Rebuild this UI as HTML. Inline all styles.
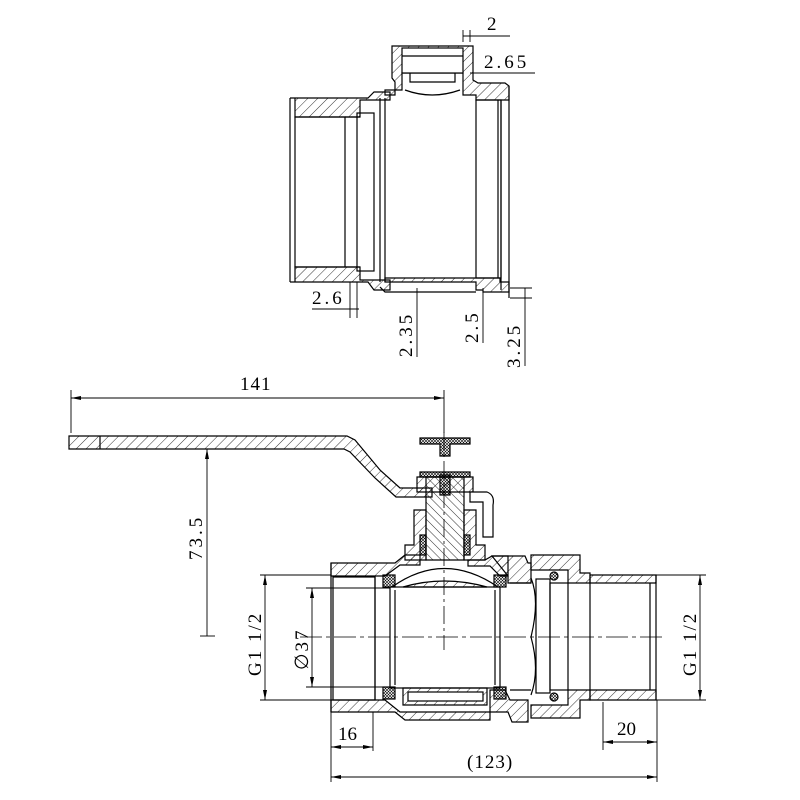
<!DOCTYPE html>
<html><head><meta charset="utf-8"><style>html,body{margin:0;padding:0;background:#fff}svg{display:block}</style></head><body>
<svg width="800" height="800" viewBox="0 0 800 800" xmlns="http://www.w3.org/2000/svg" font-family="Liberation Serif, serif" fill="none" stroke="#000" stroke-width="1">
<defs>
<pattern id="h" patternUnits="userSpaceOnUse" width="7" height="7" patternTransform="rotate(45)"><line x1="0" y1="0" x2="0" y2="7" stroke="#000" stroke-width="0.8"/></pattern>
<pattern id="h2" patternUnits="userSpaceOnUse" width="6" height="6" patternTransform="rotate(-45)"><line x1="0" y1="0" x2="0" y2="6" stroke="#000" stroke-width="0.8"/></pattern>
<pattern id="x" patternUnits="userSpaceOnUse" width="3" height="3"><path d="M0 0L3 3M3 0L0 3" stroke="#000" stroke-width="0.6"/></pattern>
<marker id="a" viewBox="0 0 10 4" refX="10" refY="2" markerWidth="10" markerHeight="4" orient="auto-start-reverse" markerUnits="userSpaceOnUse"><path d="M0 0L10 2L0 4z" fill="#000" stroke="none"/></marker>
</defs>

<!-- ========== TOP SECTION ========== -->
<g stroke-width="1.2">
<!-- left end wall -->
<path d="M290 98H368L374 92H390V100H360V117H295V98" fill="url(#h)"/>
<path d="M290 282H368L374 290H390V280H360V267H295V282" fill="url(#h)"/>
<path d="M290 98V282"/>
<rect x="295" y="117" width="50" height="150"/>
<line x1="345" y1="117" x2="360" y2="117"/><line x1="345" y1="267" x2="360" y2="267"/>
<rect x="357" y="113" width="17" height="158"/>
<line x1="380" y1="98" x2="380" y2="282"/>
<line x1="385" y1="98" x2="385" y2="282"/>
<!-- top wall body -->
<path d="M385 95H395V82L392 78V46H473V80L478 83H505L509 86V100H476V95H463V73H402V90H385Z" fill="url(#h)"/>
<rect x="402" y="48" width="61" height="25" fill="#fff"/>
<line x1="402" y1="56" x2="463" y2="56"/>
<path d="M410 73V82H455V73"/>
<path d="M405 90Q432 100 460 90"/>
<!-- bottom wall body -->
<path d="M385 282H476V290H483V292H509V282H500V278H385Z" fill="url(#h)"/>
<path d="M380 287L385 292H476"/>
<rect x="476" y="100" width="25" height="178"/>
<line x1="501" y1="100" x2="501" y2="290"/>
<line x1="509" y1="86" x2="509" y2="298"/>
<line x1="498" y1="100" x2="498" y2="278"/>
</g>
<!-- top dims -->
<g stroke-width="0.9">
<line x1="463" y1="30" x2="463" y2="42"/><line x1="470" y1="30" x2="470" y2="42"/>
<line x1="463" y1="36" x2="510" y2="36"/>
<line x1="470" y1="73" x2="535" y2="73"/>
<line x1="312" y1="309" x2="359" y2="309"/>
<line x1="350" y1="282" x2="350" y2="318"/><line x1="357" y1="282" x2="357" y2="318"/>
<line x1="417" y1="288" x2="417" y2="357"/>
<line x1="483" y1="288" x2="483" y2="343"/>
<line x1="525" y1="288" x2="525" y2="366"/>
<line x1="510" y1="288" x2="532" y2="288"/><line x1="510" y1="298" x2="532" y2="298"/>
</g>
<g fill="#000" stroke="none" font-size="19">
<text x="487" y="30">2</text>
<text x="484" y="68" letter-spacing="3">2.65</text>
<text x="312" y="304" letter-spacing="3">2.6</text>
<text transform="translate(412,357) rotate(-90)" letter-spacing="3">2.35</text>
<text transform="translate(478,343) rotate(-90)" letter-spacing="3">2.5</text>
<text transform="translate(520,368) rotate(-90)" letter-spacing="3">3.25</text>
</g>

<!-- ========== BOTTOM: HANDLE ========== -->
<g stroke-width="1.2">
<path d="M69 436H347L355 440L380 470L400 488H432V497H396L375 478L350 452L344 449H69Z" fill="url(#h)"/>
<line x1="100" y1="436" x2="100" y2="449"/>
</g>
<line x1="71" y1="390" x2="71" y2="433" stroke-width="0.9"/>
<line x1="444" y1="390" x2="444" y2="433" stroke-width="0.9"/>
<line x1="71" y1="398" x2="444" y2="398" stroke-width="0.9" marker-start="url(#a)" marker-end="url(#a)"/>
<line x1="207" y1="636" x2="207" y2="449" stroke-width="0.9" marker-end="url(#a)"/>
<line x1="200" y1="636" x2="215" y2="636" stroke-width="0.9"/>
<g fill="#000" stroke="none" font-size="19">
<text x="240" y="390" letter-spacing="1">141</text>
<text transform="translate(202,560) rotate(-90)" letter-spacing="3">73.5</text>
</g>

<!-- stem and caps -->
<g stroke-width="1.2">
<path d="M420 438H470V444H450V456H440V444H420Z" fill="url(#x)"/>
<path d="M420 472H470V477H420Z" fill="url(#x)"/>
<path d="M417 477H473V492H417Z" fill="url(#h)"/>
<path d="M470 492H487Q495 495 493 505V537H483V502H470Z" fill="#fff"/>
<path d="M426 477H464V560H426Z" fill="url(#h2)"/>
<rect x="440" y="475" width="10" height="20" fill="url(#x)"/>
<path d="M414 510H426V560H405V545H414Z" fill="url(#h)"/>
<path d="M464 510H476V545H485V560H464Z" fill="url(#h)"/>
<rect x="420" y="535" width="6" height="20" fill="url(#x)"/>
<rect x="464" y="535" width="6" height="20" fill="url(#x)"/>
</g>
<line x1="444" y1="432" x2="444" y2="650" stroke-width="0.8" stroke-dasharray="18,4,3,4"/>

<!-- body -->
<g stroke-width="1.2">
<!-- left end -->
<path d="M331 563H395L405 555H420V565H400L385 576H331Z" fill="url(#h)"/>
<path d="M331 712H395L405 720H490V712H400L385 700H331Z" fill="url(#h)"/>
<line x1="331" y1="563" x2="331" y2="712"/>
<rect x="333" y="577" width="42" height="123"/>
<line x1="375" y1="577" x2="375" y2="700"/>
<!-- top right body -->
<path d="M468 560H485L492 556H508V576H500L490 566H468Z" fill="url(#h)"/>
<path d="M492 556H525L528 563H531V583H508V576Z" fill="url(#h)"/>
<path d="M490 712H508L512 722H528V700H510L505 690H490Z" fill="url(#h)"/>
<!-- seats -->
<rect x="383" y="575" width="12" height="12" fill="url(#x)"/>
<rect x="494" y="575" width="12" height="12" fill="url(#x)"/>
<rect x="383" y="687" width="12" height="12" fill="url(#x)"/>
<rect x="494" y="687" width="12" height="12" fill="url(#x)"/>
<!-- ball -->
<path d="M392 587Q444 550 498 587"/>
<path d="M403 587Q444 575 487 587H403" fill="url(#h)"/>
<rect x="390" y="587" width="110" height="101"/>
<line x1="395" y1="590" x2="395" y2="685"/><line x1="495" y1="590" x2="495" y2="685"/>
<path d="M403 688H487V705H403Z" fill="url(#h)"/>
<rect x="408" y="692" width="75" height="9" fill="#fff"/>
<!-- mid tube to nut -->
<line x1="510" y1="583" x2="531" y2="583"/><line x1="510" y1="690" x2="531" y2="690"/>
<path d="M531 578Q540 600 531 637Q540 670 531 695"/>
<!-- nut -->
<path d="M531 555H580V573H590V583H568V570H531Z" fill="url(#h)"/>
<path d="M531 718H580V700H590V690H568V705H531Z" fill="url(#h)"/>
<rect x="536" y="579" width="14" height="114"/>
<rect x="550" y="583" width="18" height="107"/>
<circle cx="554" cy="576" r="4" fill="url(#x)"/>
<circle cx="554" cy="697" r="4" fill="url(#x)"/>
<!-- tail -->
<path d="M590 575H656V583H590Z" fill="url(#h)"/>
<path d="M590 690H656V700H590Z" fill="url(#h)"/>
<line x1="590" y1="583" x2="590" y2="690"/>
<line x1="656" y1="575" x2="656" y2="700"/>
<line x1="650" y1="583" x2="650" y2="690"/>
</g>
<line x1="300" y1="637" x2="665" y2="637" stroke-width="0.8" stroke-dasharray="22,4,4,4"/>

<!-- body dims -->
<g stroke-width="0.9">
<line x1="260" y1="575" x2="331" y2="575"/><line x1="260" y1="700" x2="331" y2="700"/>
<line x1="265" y1="575" x2="265" y2="700" marker-start="url(#a)" marker-end="url(#a)"/>
<line x1="306" y1="588" x2="390" y2="588"/><line x1="306" y1="687" x2="390" y2="687"/>
<line x1="312" y1="588" x2="312" y2="687" marker-start="url(#a)" marker-end="url(#a)"/>
<line x1="656" y1="575" x2="706" y2="575"/><line x1="656" y1="700" x2="706" y2="700"/>
<line x1="700" y1="575" x2="700" y2="700" marker-start="url(#a)" marker-end="url(#a)"/>
<line x1="331" y1="712" x2="331" y2="782"/><line x1="373" y1="712" x2="373" y2="751"/>
<line x1="331" y1="747" x2="373" y2="747" marker-start="url(#a)" marker-end="url(#a)"/>
<line x1="603" y1="702" x2="603" y2="750"/><line x1="657" y1="700" x2="657" y2="782"/>
<line x1="603" y1="742" x2="657" y2="742" marker-start="url(#a)" marker-end="url(#a)"/>
<line x1="331" y1="777" x2="657" y2="777" marker-start="url(#a)" marker-end="url(#a)"/>
</g>
<g fill="#000" stroke="none" font-size="19">
<text transform="translate(261,676) rotate(-90)" letter-spacing="2">G1 1/2</text>
<text transform="translate(696,676) rotate(-90)" letter-spacing="2">G1 1/2</text>
<text transform="translate(308,670) rotate(-90)" letter-spacing="2">∅37</text>
<text x="338" y="740">16</text>
<text x="617" y="735">20</text>
<text x="467" y="768" letter-spacing="1">(123)</text>
</g>
</svg>
</body></html>
